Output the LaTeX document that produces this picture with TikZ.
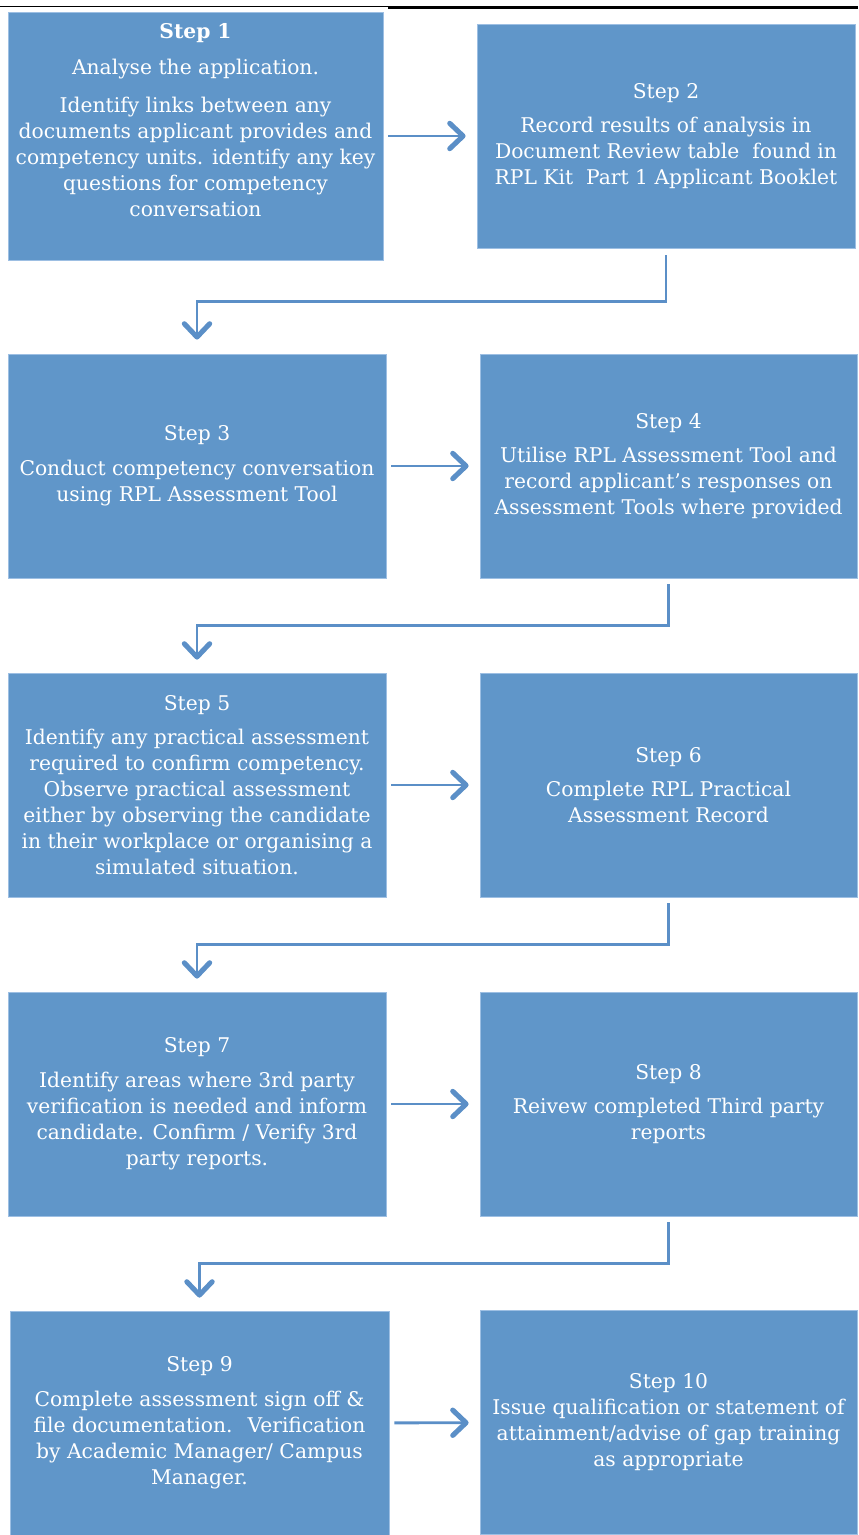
\documentclass[tikz,border=0pt]{standalone}
\usepackage{fontspec}
\setmainfont{DejaVu Serif}
\usetikzlibrary{arrows.meta, positioning}
\definecolor{stepFill}{HTML}{6096C9}
\definecolor{stepEdge}{HTML}{9DBFE3}
\definecolor{linkBlue}{HTML}{5B8FC7}
\tikzset{
  chart/.style = {
    font=\fontsize{15.2}{19.5}\selectfont,
  },
  stepbox/.style = {
    rectangle, draw=stepEdge, line width=0.6pt, fill=stepFill,
    text=white, align=center, inner sep=2pt,
  },
  leftbox/.style = {stepbox, minimum width=283.5pt, minimum height=168pt},
  rightbox/.style = {stepbox, minimum width=282.75pt, minimum height=168pt},
  steptext/.style = {text=white, align=center, inner sep=0pt},
  link/.style = {
    draw=linkBlue, line width=2.2pt,
    -{Straight Barb[length=10pt, width=19pt, line width=3.8pt, round]},
  },
  rule/.style = {draw=black},
}

\begin{document}
\begin{tikzpicture}[chart, x=0.75pt, y=0.75pt]

\useasboundingbox (0,0) rectangle (858,-1535);

\draw[rule, line width=1.2pt] (0,-6.5) -- (388,-6.5);
\draw[rule, line width=2pt] (388,-7.5) -- (858,-7.5);

\node[leftbox, minimum width=281.25pt, minimum height=186pt] (s1) at (195.5,-136) {};
\node[steptext, anchor=north] (s1txt) at (195.5,-23)
  {\textbf{Step 1}\\[7.5pt]
   Analyse the application.\\[9pt]
   Identify links between any\\documents applicant provides and\\competency units. identify any key\\questions for competency\\conversation};
\node[rightbox, minimum width=283.5pt] (s2) at (666,-136)
  {Step 2\\[6.5pt]Record results of analysis in\\Document Review table~ found in\\RPL Kit~ Part 1 Applicant Booklet};
\node[leftbox]  (s3) at (197,-466)
  {Step 3\\[6.5pt]Conduct competency conversation\\using RPL Assessment Tool};
\node[rightbox] (s4) at (668.5,-466)
  {Step 4\\[6.5pt]Utilise RPL Assessment Tool and\\record applicant's responses on\\Assessment Tools where provided};
\node[leftbox]  (s5) at (197,-785)
  {Step 5\\[6.5pt]Identify any practical assessment\\required to confirm competency.\\Observe practical assessment\\either by observing the candidate\\in their workplace or organising a\\simulated situation.};
\node[rightbox] (s6) at (668.5,-785)
  {Step 6\\[6.5pt]Complete RPL Practical\\Assessment Record};
\node[leftbox]  (s7) at (197,-1104)
  {Step 7\\[6.5pt]Identify areas where 3rd party\\verification is needed and inform\\candidate. Confirm / Verify 3rd\\party reports.};
\node[rightbox] (s8) at (668.5,-1104)
  {Step 8\\[6.5pt]Reivew completed Third party\\reports};
\node[leftbox, minimum width=284.25pt] (s9) at (199.5,-1423)
  {Step 9\\[6.5pt]Complete assessment sign off \&\\file documentation.~ Verification\\by Academic Manager/ Campus\\Manager.};
\node[rightbox] (s10) at (668.5,-1422.5)
  {Step 10\\Issue qualification or statement of\\attainment/advise of gap training\\as appropriate};

% across
\draw[link, shorten <=3.75pt, shorten >=8.25pt] (s1) -- (s1 -| s2.west);
\draw[link, shorten <=3.75pt, shorten >=8.25pt] (s3) -- (s4);
\draw[link, shorten <=3.75pt, shorten >=8.25pt] (s5) -- (s6);
\draw[link, shorten <=3.75pt, shorten >=8.25pt] (s7) -- (s8);
\draw[link, shorten <=3.75pt, shorten >=8.25pt] (s9) -- (s10);

% down to the next row
\draw[link, shorten <=5.25pt, shorten >=10.5pt] (s2.south) -- ++(0,-53) -| (s3.north);
\draw[link, shorten <=4.5pt, shorten >=9.75pt] (s4.south) -- ++(0,-47) -| (s5.north);
\draw[link, shorten <=4.5pt, shorten >=9.75pt] (s6.south) -- ++(0,-47) -| (s7.north);
\draw[link, shorten <=4.5pt, shorten >=9.75pt] (s8.south) -- ++(0,-47) -| (s9.north);

\end{tikzpicture}
\end{document}
